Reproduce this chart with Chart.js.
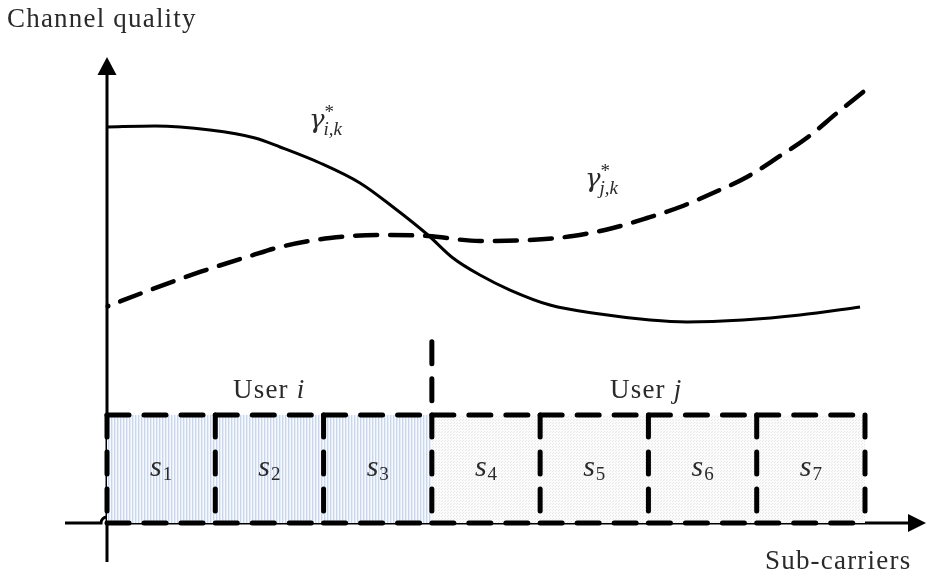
<!DOCTYPE html>
<html>
<head>
<meta charset="utf-8">
<script src="https://cdn.jsdelivr.net/npm/chart.js@4"></script>
<style>
html,body{margin:0;padding:0;background:#fff;}
canvas{display:block;}
</style>
</head>
<body>
<canvas id="c" width="927" height="579"></canvas>
<script>
// ---- data ----
const subcarrierLabels = ['1','2','3','4','5','6','7'];
const boxEdges = [0,1,2,3,4,5,6,7];
const userIBoxes = [0,3];   // sub-carrier span for user i
const userJBoxes = [3,7];   // sub-carrier span for user j
const boxHeight = 2.35;
const dividerTop = 3.94;
const gammaIx = [0.000,0.443,0.951,1.367,1.598,1.967,2.336,2.641,2.964,3.195,3.444,3.722,4.091,4.553,5.015,5.356,5.873,6.400,6.954];
const gammaIy = [8.609,8.630,8.543,8.370,8.174,7.826,7.391,6.870,6.261,5.761,5.391,5.065,4.739,4.543,4.413,4.370,4.413,4.522,4.696];
const gammaJx = [0.009,0.397,0.859,1.321,1.598,2.059,2.521,2.964,3.444,3.906,4.303,4.673,4.987,5.292,5.596,5.910,6.187,6.474,6.741,7.018];
const gammaJy = [4.717,5.065,5.457,5.804,6.000,6.196,6.261,6.239,6.130,6.152,6.239,6.413,6.630,6.870,7.174,7.522,7.935,8.391,8.913,9.435];

const zip = (xs, ys) => xs.map((x,i)=>({x, y: ys[i]}));

// ---- patterns ----
function stripePattern(){
  const c = document.createElement('canvas'); c.width = 3; c.height = 4;
  const g = c.getContext('2d');
  g.fillStyle = '#f7f9fd'; g.fillRect(0,0,3,4);
  g.fillStyle = '#c8d7ee'; g.fillRect(0,0,1,4);
  g.fillStyle = '#e6edf7'; g.fillRect(1,0,1,4);
  return g.createPattern(c,'repeat');
}
function dotPattern(){
  const c = document.createElement('canvas'); c.width = 3; c.height = 3;
  const g = c.getContext('2d');
  g.fillStyle = '#fbfbfb'; g.fillRect(0,0,3,3);
  g.fillStyle = '#e8e8e8'; g.fillRect(0,0,1,1); g.fillRect(1,2,1,1);
  return g.createPattern(c,'repeat');
}

const boxStyle = {borderColor:'#000', borderWidth:5, borderDash:[22,15], borderCapStyle:'round', pointRadius:0, fill:false, tension:0, clip:false, order:2};
const datasets = [];

// curves
datasets.push({data: zip(gammaIx, gammaIy), borderColor:'#000', borderWidth:3, pointRadius:0, tension:0.35, cubicInterpolationMode:'monotone', fill:false, clip:false, order:0});
datasets.push({data: zip(gammaJx, gammaJy), borderColor:'#000', borderWidth:4.5, borderDash:[22,13], borderDashOffset:22, borderCapStyle:'round',
  pointRadius: c => c.dataIndex===0 ? 2.5 : 0, pointBackgroundColor:'#000', pointBorderWidth:0,
  tension:0.35, cubicInterpolationMode:'monotone', fill:false, clip:false, order:0});

// box edges
for (let i = 0; i < boxEdges.length - 1; i++) {
  const a = boxEdges[i], b = boxEdges[i+1];
  datasets.push(Object.assign({}, boxStyle, {data:[{x:a,y:boxHeight},{x:b,y:boxHeight}]}));
  datasets.push(Object.assign({}, boxStyle, {data:[{x:a,y:0},{x:b,y:0}]}));
}
for (let i = 0; i < boxEdges.length; i++) {
  const a = boxEdges[i];
  datasets.push(Object.assign({}, boxStyle, {data:[{x:a,y:boxHeight},{x:a,y:0}]}));
}
// divider
datasets.push(Object.assign({}, boxStyle, {data:[{x:userIBoxes[1],y:dividerTop},{x:userIBoxes[1],y:boxHeight}]}));

// fills
datasets.push({data:[{x:userIBoxes[0],y:boxHeight},{x:userIBoxes[1],y:boxHeight}], borderWidth:0, pointRadius:0, fill:'origin', backgroundColor: stripePattern(), order:10, clip:false});
datasets.push({data:[{x:userJBoxes[0],y:boxHeight},{x:userJBoxes[1],y:boxHeight}], borderWidth:0, pointRadius:0, fill:'origin', backgroundColor: dotPattern(), order:10, clip:false});

const SERIF = '"Liberation Serif", "Times New Roman", serif';
const GREEK = '"DejaVu Serif", serif';
const TXT = '#2a2a2a';

function rich(ctx, parts, x, y, align) {
  // parts: [text, font, dx, dy]
  let w = 0;
  parts.forEach(p => { ctx.font = p[1]; w += ctx.measureText(p[0]).width + (p[2]||0); });
  let cx = align === 'center' ? x - w/2 : (align === 'right' ? x - w : x);
  parts.forEach(p => {
    ctx.font = p[1];
    cx += (p[2]||0);
    ctx.fillText(p[0], cx, y + (p[3]||0));
    cx += ctx.measureText(p[0]).width;
  });
}

const deco = {
  id: 'deco',
  beforeDatasetsDraw(chart) {
    const ctx = chart.ctx, xs = chart.scales.x, ys = chart.scales.y;
    const x0 = xs.getPixelForValue(0), y0 = ys.getPixelForValue(0);
    const top = chart.chartArea.top;
    ctx.save();
    ctx.strokeStyle = '#000'; ctx.fillStyle = '#000'; ctx.lineWidth = 3; ctx.lineCap = 'butt';
    // y axis
    ctx.beginPath(); ctx.moveTo(x0, y0 + 39); ctx.lineTo(x0, top + 10); ctx.stroke();
    ctx.beginPath(); ctx.moveTo(x0, top - 6); ctx.lineTo(x0 - 9.5, top + 12); ctx.lineTo(x0 + 9.5, top + 12); ctx.closePath(); ctx.fill();
    // x axis with hop over origin
    ctx.beginPath(); ctx.moveTo(65, y0); ctx.lineTo(x0 - 6, y0);
    ctx.arc(x0, y0, 6, Math.PI, 0, false);
    ctx.lineTo(910, y0); ctx.stroke();
    ctx.beginPath(); ctx.moveTo(926, y0); ctx.lineTo(908, y0 - 9); ctx.lineTo(908, y0 + 9); ctx.closePath(); ctx.fill();
    ctx.restore();
  },
  afterDraw(chart) {
    const ctx = chart.ctx, xs = chart.scales.x, ys = chart.scales.y;
    ctx.save();
    ctx.fillStyle = TXT; ctx.textBaseline = 'alphabetic';
    ctx.letterSpacing = '1.2px';
    ctx.textAlign = 'left';
    ctx.font = '27px ' + SERIF;
    ctx.fillText('Channel quality', 7, 27);
    ctx.fillText('Sub-carriers', 765, 569);
    const uy = ys.getPixelForValue(boxHeight) - 17;
    rich(ctx, [['User ', '27px ' + SERIF], ['i', 'italic 27px ' + SERIF]], 233, uy, 'left');
    rich(ctx, [['User ', '27px ' + SERIF], ['j', 'italic 27px ' + SERIF]], 610, uy, 'left');
    ctx.letterSpacing = '0px';
    // s labels
    const sy = ys.getPixelForValue(boxHeight/2) + 7;
    subcarrierLabels.forEach((lab, i) => {
      const cx = xs.getPixelForValue(boxEdges[i] + 0.5);
      rich(ctx, [['s', 'italic 30px ' + SERIF], [lab, '19px ' + SERIF, 1, 4]], cx, sy, 'center');
    });
    // gamma labels
    function gamma(x, y, sub) {
      ctx.font = 'italic 26px ' + GREEK;
      ctx.fillText('\u03b3', x, y);
      const gw = ctx.measureText('\u03b3').width;
      ctx.font = '19px ' + SERIF;
      ctx.fillText('*', x + gw, y - 10);
      ctx.font = 'italic 19px ' + SERIF;
      ctx.fillText(sub, x + gw - 1, y + 7);
    }
    gamma(309, 128, 'i,k');
    gamma(585, 187, 'j,k');
    ctx.restore();
  }
};

new Chart(document.getElementById('c'), {
  type: 'line',
  data: { datasets },
  options: {
    responsive: false,
    animation: false,
    devicePixelRatio: 1,
    layout: { padding: { left: 107, right: 62, top: 63, bottom: 56 } },
    scales: {
      x: { type: 'linear', min: 0, max: 7, display: false },
      y: { type: 'linear', min: 0, max: 10, display: false }
    },
    plugins: { legend: { display: false }, tooltip: { enabled: false } },
    elements: { point: { radius: 0 } }
  },
  plugins: [deco]
});
</script>
</body>
</html>
